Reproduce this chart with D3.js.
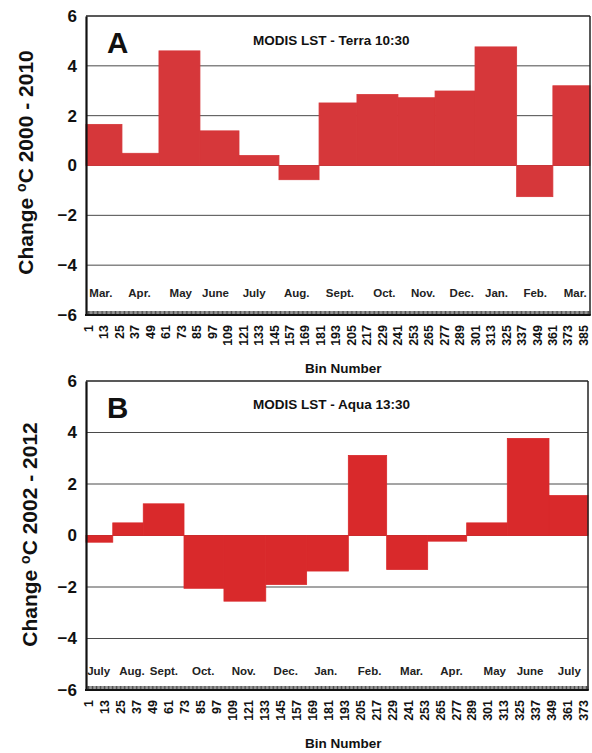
<!DOCTYPE html>
<html>
<head>
<meta charset="utf-8">
<script src="https://cdn.jsdelivr.net/npm/d3@7"></script>
<style>
  html, body { margin: 0; padding: 0; background: #fff; }
  svg { display: block; font-family: Arial, "Liberation Sans", sans-serif; font-weight: bold; }
</style>
</head>
<body>
<svg id="chart" width="592" height="753"></svg>
<script>
// ---------- DATA ----------
// Panel A: MODIS LST - Terra 10:30 (change 2000 - 2010)
const monthsA = ["Mar.", "Apr.", "May", "June", "July", "Aug.", "Sept.", "Oct.", "Nov.", "Dec.", "Jan.", "Feb.", "Mar."];
const monthLabelBinA = [11, 41, 73, 100, 130, 163, 196.5, 231, 261, 291, 318, 348, 379];
const binEdgesA = [-0.5, 27.4, 56.1, 87.9, 118.2, 149.2, 180.3, 209.7, 241.5, 270.3, 301.3, 333.6, 361.7, 390.5];
const valuesA = [1.65, 0.49, 4.6, 1.39, 0.4, -0.57, 2.51, 2.85, 2.72, 2.99, 4.76, -1.25, 3.2];
const binTicksA = d3.range(1, 386, 12);

// Panel B: MODIS LST - Aqua 13:30 (change 2002 - 2012)
const monthsB = ["July", "Aug.", "Sept.", "Oct.", "Nov.", "Dec.", "Jan.", "Feb.", "Mar.", "Apr.", "May", "June", "July"];
const monthLabelBinB = [9, 34, 58, 87.5, 118, 149.5, 179.5, 212.5, 244, 274, 306.5, 333, 362.5];
const binEdgesB = [-0.5, 19.6, 42.5, 73.1, 103.1, 134.5, 165.2, 196.5, 225.3, 256.1, 285.4, 315.9, 347.2, 376.5];
const valuesB = [-0.26, 0.49, 1.23, -2.05, -2.55, -1.90, -1.38, 3.11, -1.32, -0.22, 0.49, 3.77, 1.55];
const binTicksB = d3.range(1, 374, 12);

const yTicks = [-6, -4, -2, 0, 2, 4, 6];
const yGrid = [-4, -2, 0, 2, 4];

// ---------- DRAW ----------
const svg = d3.select("#chart");

function panel(cfg) {
  const g = svg.append("g");
  const x = d3.scaleLinear().domain(cfg.xDomain).range([cfg.left, cfg.right]);
  const y = d3.scaleLinear().domain([-6, 6]).range([cfg.bottom, cfg.top]);

  // grid
  g.selectAll("line.grid").data(yGrid).join("line")
    .attr("x1", cfg.left).attr("x2", cfg.right)
    .attr("y1", d => y(d)).attr("y2", d => y(d))
    .attr("stroke", "#4a4a4a").attr("stroke-width", 1);

  // bars
  const bars = cfg.values.map((v, i) => ({ v, x0: cfg.edges[i], x1: cfg.edges[i + 1] }));
  g.selectAll("rect.bar").data(bars).join("rect")
    .attr("x", d => x(d.x0))
    .attr("width", d => x(d.x1) - x(d.x0))
    .attr("y", d => y(Math.max(0, d.v)))
    .attr("height", d => Math.abs(y(d.v) - y(0)))
    .attr("fill", cfg.color)
    .attr("stroke", cfg.color)
    .attr("stroke-width", 0.8);

  // top & right border
  g.append("line").attr("x1", cfg.left).attr("x2", cfg.right)
    .attr("y1", y(6)).attr("y2", y(6)).attr("stroke", "#222").attr("stroke-width", 1.5);
  g.append("line").attr("x1", cfg.right).attr("x2", cfg.right)
    .attr("y1", y(6)).attr("y2", y(-6)).attr("stroke", "#222").attr("stroke-width", 1.5);

  // minor bin ticks (hatched band on bottom axis)
  const minor = g.append("g").attr("transform", `translate(0,${y(-6)})`)
    .call(d3.axisBottom(x).tickValues(d3.range(0, Math.floor(cfg.xDomain[1]) + 1)).tickSize(-4).tickFormat(""));
  minor.select(".domain").remove();
  minor.selectAll("line").attr("stroke", "#3a3a3a").attr("stroke-width", 0.9);
  g.append("line").attr("x1", cfg.left - 1).attr("x2", cfg.right + 0.75)
    .attr("y1", y(-6)).attr("y2", y(-6)).attr("stroke", "#111").attr("stroke-width", 2);

  // x tick labels
  const gx = g.append("g").attr("transform", `translate(0,${y(-6)})`)
    .call(d3.axisBottom(x).tickValues(cfg.binTicks).tickSize(0));
  gx.select(".domain").remove();
  gx.selectAll("text")
    .attr("transform", "rotate(-90)")
    .attr("text-anchor", "end")
    .attr("x", -10).attr("y", 0).attr("dy", "0.36em")
    .attr("font-size", 12.5).attr("font-weight", "bold")
    .attr("font-family", "Arial, 'Liberation Sans', sans-serif")
    .attr("fill", "#111");

  // y axis
  const gy = g.append("g").attr("transform", `translate(${cfg.left},0)`)
    .call(d3.axisLeft(y).tickValues(yTicks).tickSize(0).tickPadding(9));
  gy.select(".domain").attr("stroke", "#111").attr("stroke-width", 2.2);
  gy.selectAll("text")
    .attr("font-size", 17).attr("font-weight", "bold")
    .attr("font-family", "Arial, 'Liberation Sans', sans-serif")
    .attr("fill", "#111");

  // month labels
  g.selectAll("text.month").data(cfg.months).join("text")
    .attr("class", "month")
    .attr("x", (d, i) => x(cfg.monthBins[i]))
    .attr("y", cfg.monthBaseline)
    .attr("text-anchor", "middle")
    .attr("font-size", 11.5)
    .attr("fill", "#222")
    .text(d => d);

  // panel letter
  g.append("text").attr("x", 107).attr("y", cfg.letterBaseline)
    .attr("font-size", 29.5).attr("fill", "#111").text(cfg.letter);

  // subtitle
  g.append("text").attr("x", 253).attr("y", cfg.subtitleBaseline)
    .attr("font-size", 13.5).attr("fill", "#111").text(cfg.subtitle);

  // y title
  const yt = g.append("text")
    .attr("transform", `translate(${cfg.yTitleX},${cfg.yTitleY}) rotate(-90)`)
    .attr("text-anchor", "middle")
    .attr("font-size", 21).attr("fill", "#111");
  yt.append("tspan").text("Change ");
  yt.append("tspan").attr("font-size", 14).attr("dy", -7).text("o");
  yt.append("tspan").attr("dy", 7).text("C " + cfg.years);

  // x title
  g.append("text").attr("x", 305).attr("y", y(-6) + 58)
    .attr("font-size", 13.5).attr("fill", "#111").text("Bin Number");
}

panel({
  left: 86, right: 590, top: 16, bottom: 315,
  xDomain: [-0.5, 390.5],
  edges: binEdgesA, values: valuesA, color: "#d6373a",
  binTicks: binTicksA, months: monthsA, monthBins: monthLabelBinA, monthBaseline: 297,
  letter: "A", letterBaseline: 53,
  subtitle: "MODIS LST - Terra 10:30", subtitleBaseline: 44.5,
  yTitleX: 32.5, yTitleY: 162.5, years: "2000 - 2010"
});

panel({
  left: 86, right: 588, top: 381, bottom: 690,
  xDomain: [-0.5, 376.5],
  edges: binEdgesB, values: valuesB, color: "#d9292b",
  binTicks: binTicksB, months: monthsB, monthBins: monthLabelBinB, monthBaseline: 675,
  letter: "B", letterBaseline: 418,
  subtitle: "MODIS LST - Aqua 13:30", subtitleBaseline: 408.5,
  yTitleX: 36.5, yTitleY: 534.5, years: "2002 - 2012"
});
</script>
</body>
</html>
